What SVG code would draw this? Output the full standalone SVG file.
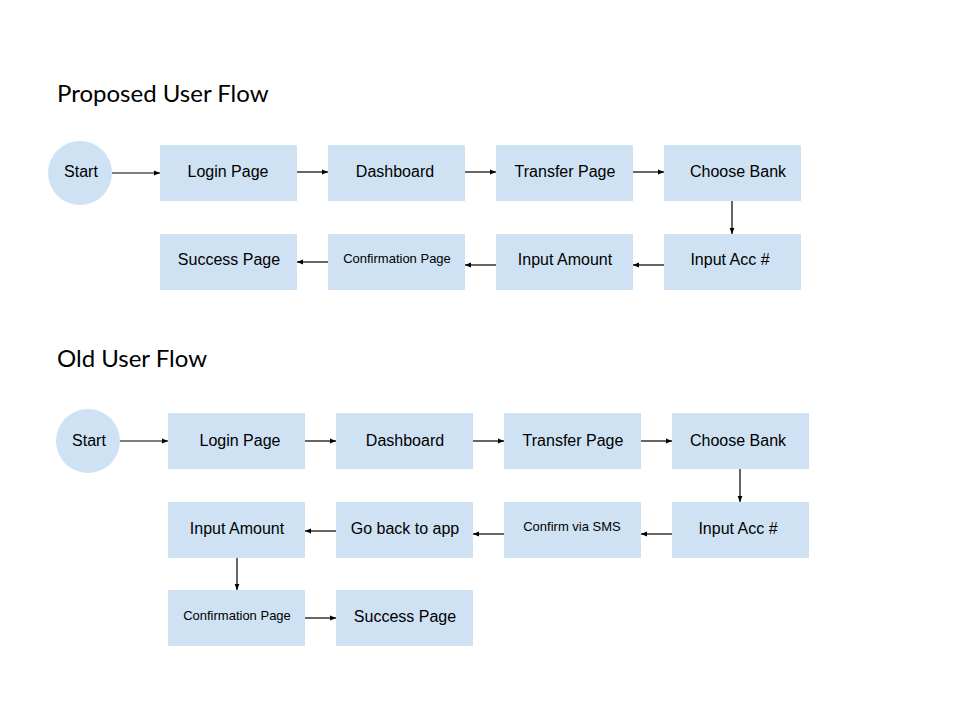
<svg xmlns="http://www.w3.org/2000/svg" width="960" height="720" viewBox="0 0 960 720">
<style>
.n{fill:#cfe2f3;stroke:none}
.t{font-family:"Liberation Sans",Arial,sans-serif;font-size:16px;fill:#000;text-anchor:middle}
.s{font-family:"Liberation Sans",Arial,sans-serif;font-size:13px;fill:#000;text-anchor:middle}
.h{font-family:Lato,"Open Sans",sans-serif;font-size:24px;fill:#000}
.c{stroke:#000;stroke-width:1.2;fill:none;marker-end:url(#a)}
</style>
<defs>
<marker id="a" viewBox="0 0 10 10" refX="10" refY="5" markerWidth="6" markerHeight="6" markerUnits="userSpaceOnUse" orient="auto">
<path d="M0,1 L10,5 L0,9 z" fill="#000"/>
</marker>
</defs>
<rect width="960" height="720" fill="#fff"/>
<text class="h" x="57" y="102">Proposed User Flow</text>
<text class="h" x="57" y="367">Old User Flow</text>
<g id="connectors">
<line class="c" x1="112" y1="173" x2="160" y2="173"/>
<line class="c" x1="297" y1="172" x2="328" y2="172"/>
<line class="c" x1="465" y1="172" x2="496" y2="172"/>
<line class="c" x1="633" y1="172" x2="664" y2="172"/>
<line class="c" x1="732" y1="201" x2="732" y2="234"/>
<line class="c" x1="664" y1="265" x2="633" y2="265"/>
<line class="c" x1="496" y1="265" x2="465" y2="265"/>
<line class="c" x1="328" y1="262" x2="297" y2="262"/>
<line class="c" x1="120" y1="441" x2="168" y2="441"/>
<line class="c" x1="305" y1="441" x2="336" y2="441"/>
<line class="c" x1="473" y1="441" x2="504" y2="441"/>
<line class="c" x1="641" y1="441" x2="672" y2="441"/>
<line class="c" x1="740" y1="469" x2="740" y2="502"/>
<line class="c" x1="672" y1="534" x2="641" y2="534"/>
<line class="c" x1="504" y1="534" x2="473" y2="534"/>
<line class="c" x1="336" y1="531" x2="305" y2="531"/>
<line class="c" x1="237" y1="558" x2="237" y2="590"/>
<line class="c" x1="305" y1="618" x2="336" y2="618"/>
</g>
<g id="p-start"><circle class="n" cx="80" cy="173" r="32"/><text class="t" x="81" y="177">Start</text></g>
<g id="p-login"><rect class="n" x="160" y="145" width="137" height="56"/><text class="t" x="228" y="177">Login Page</text></g>
<g id="p-dash"><rect class="n" x="328" y="145" width="137" height="56"/><text class="t" x="395" y="177">Dashboard</text></g>
<g id="p-transfer"><rect class="n" x="496" y="145" width="137" height="56"/><text class="t" x="565" y="177">Transfer Page</text></g>
<g id="p-bank"><rect class="n" x="664" y="145" width="137" height="56"/><text class="t" x="738" y="177">Choose Bank</text></g>
<g id="p-acc"><rect class="n" x="664" y="234" width="137" height="56"/><text class="t" x="730" y="265">Input Acc #</text></g>
<g id="p-amount"><rect class="n" x="496" y="234" width="137" height="56"/><text class="t" x="565" y="265">Input Amount</text></g>
<g id="p-confirm"><rect class="n" x="328" y="234" width="137" height="56"/><text class="s" x="397" y="263">Confirmation Page</text></g>
<g id="p-success"><rect class="n" x="160" y="234" width="137" height="56"/><text class="t" x="229" y="265">Success Page</text></g>
<g id="o-start"><circle class="n" cx="88" cy="441" r="32"/><text class="t" x="89" y="446">Start</text></g>
<g id="o-login"><rect class="n" x="168" y="413" width="137" height="56"/><text class="t" x="240" y="446">Login Page</text></g>
<g id="o-dash"><rect class="n" x="336" y="413" width="137" height="56"/><text class="t" x="405" y="446">Dashboard</text></g>
<g id="o-transfer"><rect class="n" x="504" y="413" width="137" height="56"/><text class="t" x="573" y="446">Transfer Page</text></g>
<g id="o-bank"><rect class="n" x="672" y="413" width="137" height="56"/><text class="t" x="738" y="446">Choose Bank</text></g>
<g id="o-acc"><rect class="n" x="672" y="502" width="137" height="56"/><text class="t" x="738" y="534">Input Acc #</text></g>
<g id="o-sms"><rect class="n" x="504" y="502" width="137" height="56"/><text class="s" x="572" y="531">Confirm via SMS</text></g>
<g id="o-back"><rect class="n" x="336" y="502" width="137" height="56"/><text class="t" x="405" y="534">Go back to app</text></g>
<g id="o-amount"><rect class="n" x="168" y="502" width="137" height="56"/><text class="t" x="237" y="534">Input Amount</text></g>
<g id="o-confirm"><rect class="n" x="168" y="590" width="137" height="56"/><text class="s" x="237" y="620">Confirmation Page</text></g>
<g id="o-success"><rect class="n" x="336" y="590" width="137" height="56"/><text class="t" x="405" y="622">Success Page</text></g>
</svg>
